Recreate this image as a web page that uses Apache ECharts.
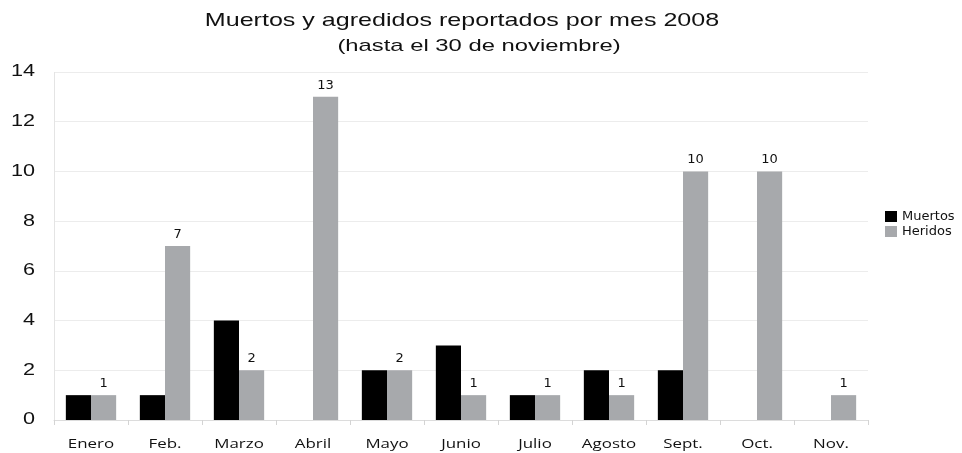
<!DOCTYPE html>
<html>
<head>
<meta charset="utf-8">
<script src="https://cdn.jsdelivr.net/npm/echarts@6/dist/echarts.min.js"></script>
<style>
  html, body { margin: 0; padding: 0; background: #fff; }
  #chart { width: 962px; height: 453px; }
</style>
</head>
<body>
<div id="chart"></div>
<script>
// Monthly reported deaths and injuries, 2008 (through 30 November)
const months = ['Enero', 'Feb.', 'Marzo', 'Abril', 'Mayo', 'Junio', 'Julio', 'Agosto', 'Sept.', 'Oct.', 'Nov.'];
const muertos = [1, 1, 4, null, 2, 3, 1, 2, 2, null, null];
const heridos = [1, 7, 2, 13, 2, 1, 1, 1, 10, 10, 1];
const yTicks = [0, 2, 4, 6, 8, 10, 12, 14];
const titleText = 'Muertos y agredidos reportados por mes 2008';
const subtitleText = '(hasta el 30 de noviembre)';

const chart = echarts.init(document.getElementById('chart'));
chart.setOption({
  backgroundColor: '#ffffff',
  animation: false,
  legend: {
    orient: 'vertical',
    left: 880, top: 205,
    itemWidth: 12, itemHeight: 11, itemGap: 2,
    icon: 'rect',
    textStyle: { fontFamily: 'DejaVu Sans', fontSize: 13, color: '#111' },
    data: ['Muertos', 'Heridos']
  },
  grid: { left: 54, right: 94, top: 72, bottom: 33, containLabel: false },
  xAxis: {
    type: 'category',
    data: months,
    axisLine: { show: true, lineStyle: { color: '#dcdcdc' } },
    axisTick: { show: true, alignWithLabel: false, length: 5, lineStyle: { color: '#d4d4d4' } },
    axisLabel: { show: false }
  },
  yAxis: {
    type: 'value',
    min: yTicks[0], max: yTicks[yTicks.length - 1], interval: yTicks[1] - yTicks[0],
    axisLine: { show: false },
    axisTick: { show: false },
    axisLabel: { show: false },
    splitLine: { lineStyle: { color: '#ececec' } }
  },
  series: [
    {
      name: 'Muertos',
      type: 'bar',
      data: muertos,
      barGap: '0%',
      barCategoryGap: '32%',
      itemStyle: { color: '#000000' }
    },
    {
      name: 'Heridos',
      type: 'bar',
      data: heridos,
      barGap: '0%',
      barCategoryGap: '32%',
      itemStyle: { color: '#a7a9ac' },
      label: {
        show: true, position: 'top', distance: 5,
        fontFamily: 'DejaVu Sans', fontSize: 13, color: '#111'
      }
    }
  ]
});

// Wide-set text: titles and axis labels drawn horizontally stretched,
// positioned from the axes' own pixel conversion.
function wideText(x, y, text, opts) {
  return {
    type: 'text',
    x: x, y: y,
    scaleX: opts.scaleX,
    silent: true,
    style: {
      x: 0, y: 0,
      text: text,
      fill: '#111',
      font: opts.size + 'px "' + opts.family + '"',
      align: opts.align,
      verticalAlign: 'middle'
    }
  };
}

const graphics = [];
graphics.push(wideText(462, 21, titleText, { size: 19, family: 'Liberation Sans', scaleX: 1.32, align: 'center' }));
graphics.push(wideText(479, 46, subtitleText, { size: 17, family: 'Liberation Sans', scaleX: 1.40, align: 'center' }));

months.forEach(function (m, i) {
  const p = chart.convertToPixel({ gridIndex: 0 }, [i, 0]);
  graphics.push(wideText(p[0], 444, m, { size: 13, family: 'Open Sans', scaleX: 1.3, align: 'center' }));
});

yTicks.forEach(function (v) {
  const p = chart.convertToPixel({ gridIndex: 0 }, [0, v]);
  graphics.push(wideText(35, p[1], String(v), { size: 16, family: 'Liberation Sans', scaleX: 1.35, align: 'right' }));
});

// left frame line of the plot area
const plotTop = chart.convertToPixel({ gridIndex: 0 }, [0, yTicks[yTicks.length - 1]]);
const plotBottom = chart.convertToPixel({ gridIndex: 0 }, [0, yTicks[0]]);
graphics.push({
  type: 'line',
  shape: { x1: 54.5, y1: plotTop[1], x2: 54.5, y2: plotBottom[1] },
  style: { stroke: '#e4e4e4', lineWidth: 1 },
  silent: true
});

chart.setOption({ graphic: graphics });
</script>
</body>
</html>
